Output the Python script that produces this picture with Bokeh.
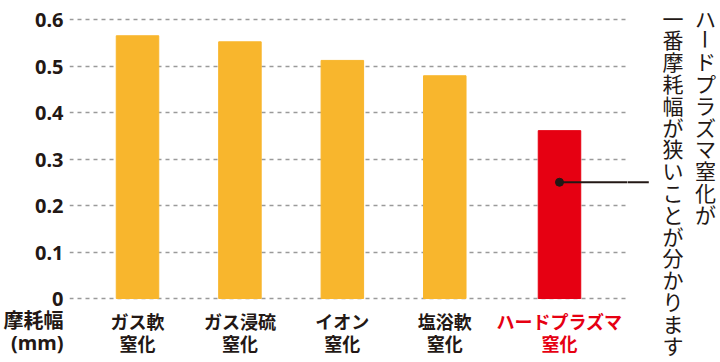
import math
from bokeh.plotting import figure
from bokeh.layouts import row
from bokeh.models import FactorRange, Range1d, FixedTicker, ColumnDataSource, LabelSet
from bokeh.core.properties import value
from bokeh.embed import file_html
from bokeh.resources import INLINE

# ---- data ----
CATEGORIES = ["ガス軟窒化", "ガス浸硫窒化", "イオン窒化", "塩浴軟窒化", "ハードプラズマ窒化"]
CATEGORY_LABELS = ["ガス軟\n窒化", "ガス浸硫\n窒化", "イオン\n窒化", "塩浴軟\n窒化", "ハードプラズマ\n窒化"]
GROUPS = ["従来", "従来", "従来", "従来", "ハード"]
WEAR_WIDTH = [0.565, 0.552, 0.512, 0.479, 0.361]
Y_TICKS = [0, 0.1, 0.2, 0.3, 0.4, 0.5, 0.6]
Y_TICK_LABELS = ["0", "0.1", "0.2", "0.3", "0.4", "0.5", "0.6"]
Y_AXIS_TITLE = "摩耗幅\n(mm)"
CALLOUT_LINES = ["ハードプラズマ窒化が", "一番摩耗幅が狭いことが分かります"]
CALLOUT_VALUE = 0.25

# ---- styles / layout ----
ORANGE = "#f8b62d"
RED = "#e60012"
DARK = "#231815"
JP = "Noto Sans CJK JP"
W, H = 720, 362
FRAME_L, FRAME_R = 68, 627          # main plotting area (px)
PX_TOP, PX_ZERO = 19.0, 298.0       # pixel rows of 0.6 and 0
GP, RP = 0.12, 0.164
PX_PER_UNIT = (PX_ZERO - PX_TOP) / 0.6
LINE_PY = [320.0, 342.0]            # pixel rows of the two label lines


def py_to_y(py):
    return (PX_ZERO - py) / PX_PER_UNIT


Y_START, Y_END = py_to_y(H), py_to_y(0)
line_y = [py_to_y(v) for v in LINE_PY]

factors = list(zip(GROUPS, CATEGORIES))
bar_colors = [RED if g == "ハード" else ORANGE for g in GROUPS]
label_colors = [RED if g == "ハード" else DARK for g in GROUPS]

yr = Range1d(Y_START, Y_END)

p = figure(width=FRAME_R, height=H, title=None,
           x_range=FactorRange(factors=factors, factor_padding=0, group_padding=GP,
                               range_padding=RP, range_padding_units="absolute"),
           y_range=yr, output_backend="svg", toolbar_location=None,
           min_border_left=FRAME_L, min_border_right=0,
           min_border_top=0, min_border_bottom=0)
p.outline_line_color = None
p.background_fill_color = "white"
p.border_fill_color = "white"

src = ColumnDataSource(dict(x=factors, top=WEAR_WIDTH, color=bar_colors))
p.vbar(x="x", top="top", width=0.415, source=src, fill_color="color", line_color="color")

# y axis: numeric ticks plus the two-line unit label at the bottom
title_lines = Y_AXIS_TITLE.split("\n")
p.xaxis.visible = False
p.xgrid.visible = False
ya = p.yaxis[0]
ya.ticker = FixedTicker(ticks=line_y + Y_TICKS)
overrides = {t: lab for t, lab in zip(Y_TICKS, Y_TICK_LABELS)}
for yy, txt in zip(line_y, title_lines):
    overrides[yy] = txt
ya.major_label_overrides = overrides
ya.axis_line_color = None
ya.major_tick_line_color = None
ya.minor_tick_line_color = None
ya.major_tick_out = 0
ya.major_tick_in = 0
ya.major_label_standoff = 6
ya.major_label_text_font = "Noto Sans, Noto Sans CJK JP"
ya.major_label_text_font_style = "bold"
ya.major_label_text_font_size = "20px"
ya.major_label_text_color = DARK

p.ygrid.ticker = FixedTicker(ticks=Y_TICKS)
p.ygrid.grid_line_color = "#9a9a9a"
p.ygrid.grid_line_dash = "4 4"
p.ygrid.grid_line_width = 1.5

# category labels, one LabelSet per text line
split = [lab.split("\n") for lab in CATEGORY_LABELS]
for li, yy in enumerate(line_y):
    lsrc = ColumnDataSource(dict(x=factors, y=[yy] * len(factors),
                                 text=[s[li] for s in split], color=label_colors))
    p.add_layout(LabelSet(x="x", y="y", text="text", source=lsrc, text_color="color",
                          text_align="center", text_baseline="middle",
                          text_font=value(JP), text_font_style="bold",
                          text_font_size="18px"))

# callout dot + leader line (runs past the frame edge, continues in the right panel)
csrc = ColumnDataSource(dict(x0=[factors[-1]], x1=[len(factors) + 3.0],
                             y=[CALLOUT_VALUE]))
p.segment(x0="x0", y0="y", x1="x1", y1="y", source=csrc, line_width=2, line_color=DARK)
p.scatter(x=[factors[-1]], y=[CALLOUT_VALUE], size=8, color=DARK)

# right panel with vertical text
RW = W - FRAME_R
p2 = figure(width=RW, height=H, title=None, x_range=Range1d(0, RW), y_range=yr,
            output_backend="svg", toolbar_location=None,
            min_border_left=0, min_border_right=0, min_border_top=0, min_border_bottom=0)
p2.outline_line_color = None
p2.axis.visible = False
p2.grid.visible = False
p2.border_fill_color = "white"
p2.background_fill_color = "white"

p2.segment(x0=[-10], y0=[CALLOUT_VALUE], x1=[648.3 - FRAME_R], y1=[CALLOUT_VALUE],
           line_width=2, line_color=DARK)

col_x = [705.0 - FRAME_R, 672.5 - FRAME_R]   # right column is read first
first_py, pitch = 17.0, 21.8
tx, ty, tt, ta = [], [], [], []
for li, line in enumerate(CALLOUT_LINES):
    for ci, ch in enumerate(line):
        tx.append(col_x[li])
        ty.append(py_to_y(first_py + ci * pitch))
        tt.append(ch)
        ta.append(-math.pi / 2 if ch == "ー" else 0.0)
p2.text(x=tx, y=ty, text=tt, angle=ta, text_align="center", text_baseline="middle",
        text_font=value(JP), text_font_size="21px", text_color=DARK)

layout = row(p, p2, spacing=0)
open("out.html", "w").write(file_html(layout, INLINE))
